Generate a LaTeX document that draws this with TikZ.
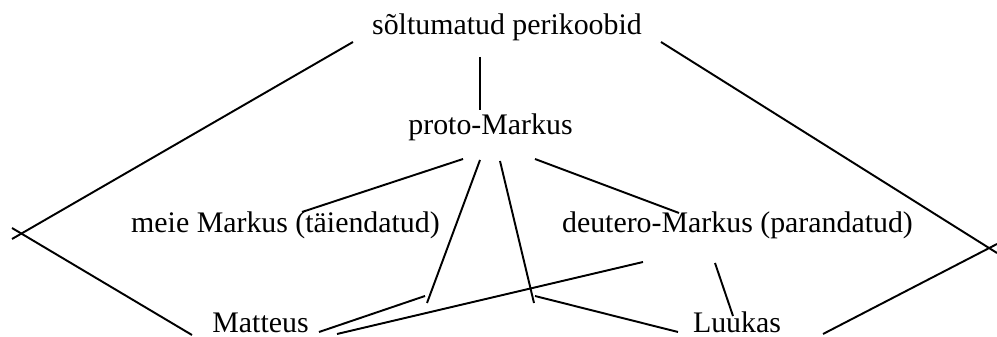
\documentclass[tikz,border=0pt]{standalone}
\usepackage{fontspec}
\setmainfont{Liberation Serif}
\begin{document}
\begin{tikzpicture}[
  x=0.02cm,y=-0.02cm,
  lbl/.style={anchor=base,inner sep=0pt,font=\fontsize{17}{20}\selectfont},
  ln/.style={draw=black,line width=1.1pt}
]
\useasboundingbox (0,0) rectangle (997,337);
\node[lbl] (perikoobid) at (507,35) {sõltumatud perikoobid};
\node[lbl] (proto) at (490.5,135) {proto-Markus};
\node[lbl] (meie) at (285.5,233) {meie Markus (täiendatud)};
\node[lbl] (deutero) at (737.5,233) {deutero-Markus (parandatud)};
\node[lbl] (matteus) at (260.5,333) {Matteus};
\node[lbl] (luukas) at (737,333) {Luukas};

% free ends of the strokes
\coordinate (pl) at (353,42);   \coordinate (xl1) at (12,239);
\coordinate (xl2) at (12,228);  \coordinate (ml) at (192,335);
\coordinate (pd) at (480,57);   \coordinate (pu) at (480,110);
\coordinate (p1) at (463,159);  \coordinate (me) at (302,212);
\coordinate (p2) at (480,160);  \coordinate (j1) at (427,303);
\coordinate (mr1) at (319,332); \coordinate (j2) at (425,296);
\coordinate (mr2) at (337,334); \coordinate (dl) at (643,262);
\coordinate (p3) at (500,161);  \coordinate (j3) at (534,303);
\coordinate (j4) at (535,296);  \coordinate (lu1) at (678,332);
\coordinate (p4) at (535,159);  \coordinate (de) at (679,213);
\coordinate (dd) at (715,263);  \coordinate (lu2) at (733,316);
\coordinate (pr) at (661,42);   \coordinate (xr1) at (997,253);
\coordinate (lu3) at (823,334); \coordinate (xr2) at (997,244);

\draw[ln] (pl)--(xl1); \draw[ln] (xl2)--(ml); \draw[ln] (pd)--(pu);
\draw[ln] (p1)--(me); \draw[ln] (p2)--(j1); \draw[ln] (mr1)--(j2);
\draw[ln] (mr2)--(dl); \draw[ln] (p3)--(j3); \draw[ln] (j4)--(lu1);
\draw[ln] (p4)--(de); \draw[ln] (dd)--(lu2);
\draw[ln] (pr)--(xr1); \draw[ln] (lu3)--(xr2);
\end{tikzpicture}
\end{document}
